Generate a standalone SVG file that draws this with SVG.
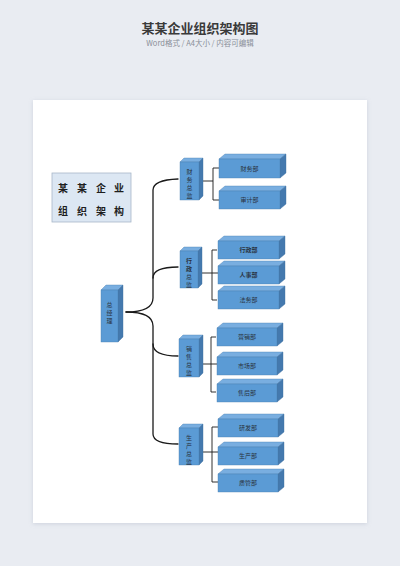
<svg xmlns="http://www.w3.org/2000/svg" width="400" height="566" viewBox="0 0 400 566">
<defs>
<filter id="sh" x="-5%" y="-5%" width="110%" height="110%"><feDropShadow dx="0" dy="1" stdDeviation="2" flood-color="#9aa3b5" flood-opacity="0.35"/></filter>
</defs>
<style>
.top{fill:#79aee0;stroke:#4a7fb0;stroke-width:0.4}
.side{fill:#4479ae;stroke:#3f6f9f;stroke-width:0.4}
.front{fill:#5b9bd5;stroke:#4a7fb0;stroke-width:0.4}
.lbl{font-family:"Noto Sans CJK SC","Noto Sans",sans-serif;font-size:6px;fill:#2a3340;text-anchor:middle}
.con{fill:none;stroke:#1a1a1a;stroke-width:1.3;stroke-linecap:round}
.con2{fill:none;stroke:#1a1a1a;stroke-width:0.9}
</style>
<rect width="400" height="566" fill="#e9ecf2"/>
<text x="200" y="33" text-anchor="middle" font-family="Noto Sans CJK SC,sans-serif" font-size="13" font-weight="bold" fill="#3a3a3a">某某企业组织架构图</text>
<text x="200" y="46" text-anchor="middle" font-family="Noto Sans CJK SC,sans-serif" font-size="7.5" fill="#8a8f99">Word格式 / A4大小 / 内容可编辑</text>
<rect x="33" y="100" width="334" height="423" fill="#ffffff" filter="url(#sh)"/>

<g id="title-box">
<rect x="52" y="173" width="79" height="49" fill="#dce7f3" stroke="#a8b7c8" stroke-width="0.8"/>
<g font-family="Noto Sans CJK SC,sans-serif" font-size="10" font-weight="bold" fill="#1e1e1e" text-anchor="middle">
<text x="63" y="192">某</text><text x="82" y="192">某</text><text x="101" y="192">企</text><text x="119" y="192">业</text>
<text x="63" y="215">组</text><text x="82" y="215">织</text><text x="101" y="215">架</text><text x="119" y="215">构</text>
</g>
</g>

<g id="connectors">
<path class="con" d="M126,312 Q153,312 153,298 L153,190 Q153,180 178,179"/>
<path class="con" d="M126,312 Q153,312 153,326 L153,434 Q153,444 178,444"/>
<path class="con" d="M153,278 Q153,267 178,267"/>
<path class="con" d="M153,344 Q153,356 178,356"/>
<path class="con2" d="M203,181 L213,181 M219,168 L213,168 L213,200 L219,200"/>
<path class="con2" d="M202,273 L218,273 M217,250 L212,250 L212,300 L217,300"/>
<path class="con2" d="M203,364 L217,364 M216,337 L211,337 L211,392 L216,392"/>
<path class="con2" d="M203,452 L218,452 M218,427 L212,427 L212,482 L218,482"/>
</g>

<g id="gm">
<polygon class="top" points="101,290 106,285 123,285 118,290"/>
<polygon class="side" points="118,290 123,285 123,337 118,342"/>
<rect class="front" x="101" y="290" width="17" height="52"/>
<text class="lbl" x="109.5" y="307">总</text><text class="lbl" x="109.5" y="315">经</text><text class="lbl" x="109.5" y="323">理</text>
</g>

<g id="dir-finance">
<polygon class="top" points="180,162 184,158 203,158 199,162"/>
<polygon class="side" points="199,162 203,158 203,196 199,200"/>
<rect class="front" x="180" y="162" width="19" height="38"/>
<text class="lbl" x="189.5" y="174">财</text><text class="lbl" x="189.5" y="182">务</text><text class="lbl" x="189.5" y="190">总</text><text class="lbl" x="189.5" y="198">监</text>
</g>
<g id="dir-admin">
<polygon class="top" points="180,251 184,247 202,247 198,251"/>
<polygon class="side" points="198,251 202,247 202,284 198,288"/>
<rect class="front" x="180" y="251" width="18" height="37"/>
<text class="lbl" x="189" y="263" font-weight="bold">行</text><text class="lbl" x="189" y="271" font-weight="bold">政</text><text class="lbl" x="189" y="279">总</text><text class="lbl" x="189" y="287">监</text>
</g>
<g id="dir-sales">
<polygon class="top" points="179,339 183,335 203,335 199,339"/>
<polygon class="side" points="199,339 203,335 203,373 199,377"/>
<rect class="front" x="179" y="339" width="20" height="38"/>
<text class="lbl" x="189" y="351">销</text><text class="lbl" x="189" y="359">售</text><text class="lbl" x="189" y="367">总</text><text class="lbl" x="189" y="375">监</text>
</g>
<g id="dir-prod">
<polygon class="top" points="179,428 183,424 203,424 199,428"/>
<polygon class="side" points="199,428 203,424 203,461 199,465"/>
<rect class="front" x="179" y="428" width="20" height="37"/>
<text class="lbl" x="189" y="440">生</text><text class="lbl" x="189" y="448">产</text><text class="lbl" x="189" y="456">总</text><text class="lbl" x="189" y="464">监</text>
</g>

<g id="d-caiwu">
<polygon class="top" points="219,159 225,154 286,154 280,159"/>
<polygon class="side" points="280,159 286,154 286,173 280,178"/>
<rect class="front" x="219" y="159" width="61" height="19"/>
<text class="lbl" x="249.5" y="170.5">财务部</text>
</g>
<g id="d-shenji">
<polygon class="top" points="219,191 225,186 286,186 280,191"/>
<polygon class="side" points="280,191 286,186 286,204 280,209"/>
<rect class="front" x="219" y="191" width="61" height="18"/>
<text class="lbl" x="249.5" y="202">审计部</text>
</g>
<g id="d-xingzheng">
<polygon class="top" points="218,241 224,236 285,236 279,241"/>
<polygon class="side" points="279,241 285,236 285,254 279,259"/>
<rect class="front" x="218" y="241" width="61" height="18"/>
<text class="lbl" x="248.5" y="252" font-weight="bold">行政部</text>
</g>
<g id="d-renshi">
<polygon class="top" points="218,266 224,261 285,261 279,266"/>
<polygon class="side" points="279,266 285,261 285,279 279,284"/>
<rect class="front" x="218" y="266" width="61" height="18"/>
<text class="lbl" x="248.5" y="277" font-weight="bold">人事部</text>
</g>
<g id="d-fawu">
<polygon class="top" points="218,291 224,286 285,286 279,291"/>
<polygon class="side" points="279,291 285,286 285,304 279,309"/>
<rect class="front" x="218" y="291" width="61" height="18"/>
<text class="lbl" x="248.5" y="302">法务部</text>
</g>
<g id="d-yingxiao">
<polygon class="top" points="217,328 223,323 283,323 277,328"/>
<polygon class="side" points="277,328 283,323 283,341 277,346"/>
<rect class="front" x="217" y="328" width="60" height="18"/>
<text class="lbl" x="247" y="339">营销部</text>
</g>
<g id="d-shichang">
<polygon class="top" points="217,357 223,352 283,352 277,357"/>
<polygon class="side" points="277,357 283,352 283,370 277,375"/>
<rect class="front" x="217" y="357" width="60" height="18"/>
<text class="lbl" x="247" y="368">市场部</text>
</g>
<g id="d-shouhou">
<polygon class="top" points="217,384 223,379 283,379 277,384"/>
<polygon class="side" points="277,384 283,379 283,397 277,402"/>
<rect class="front" x="217" y="384" width="60" height="18"/>
<text class="lbl" x="247" y="395">售后部</text>
</g>
<g id="d-yanfa">
<polygon class="top" points="218,419 224,414 284,414 278,419"/>
<polygon class="side" points="278,419 284,414 284,432 278,437"/>
<rect class="front" x="218" y="419" width="60" height="18"/>
<text class="lbl" x="248" y="430">研发部</text>
</g>
<g id="d-shengchan">
<polygon class="top" points="218,447 224,442 284,442 278,447"/>
<polygon class="side" points="278,447 284,442 284,460 278,465"/>
<rect class="front" x="218" y="447" width="60" height="18"/>
<text class="lbl" x="248" y="458">生产部</text>
</g>
<g id="d-zhiguan">
<polygon class="top" points="218,474 224,469 284,469 278,474"/>
<polygon class="side" points="278,474 284,469 284,487 278,492"/>
<rect class="front" x="218" y="474" width="60" height="18"/>
<text class="lbl" x="248" y="485">质管部</text>
</g>
</svg>
